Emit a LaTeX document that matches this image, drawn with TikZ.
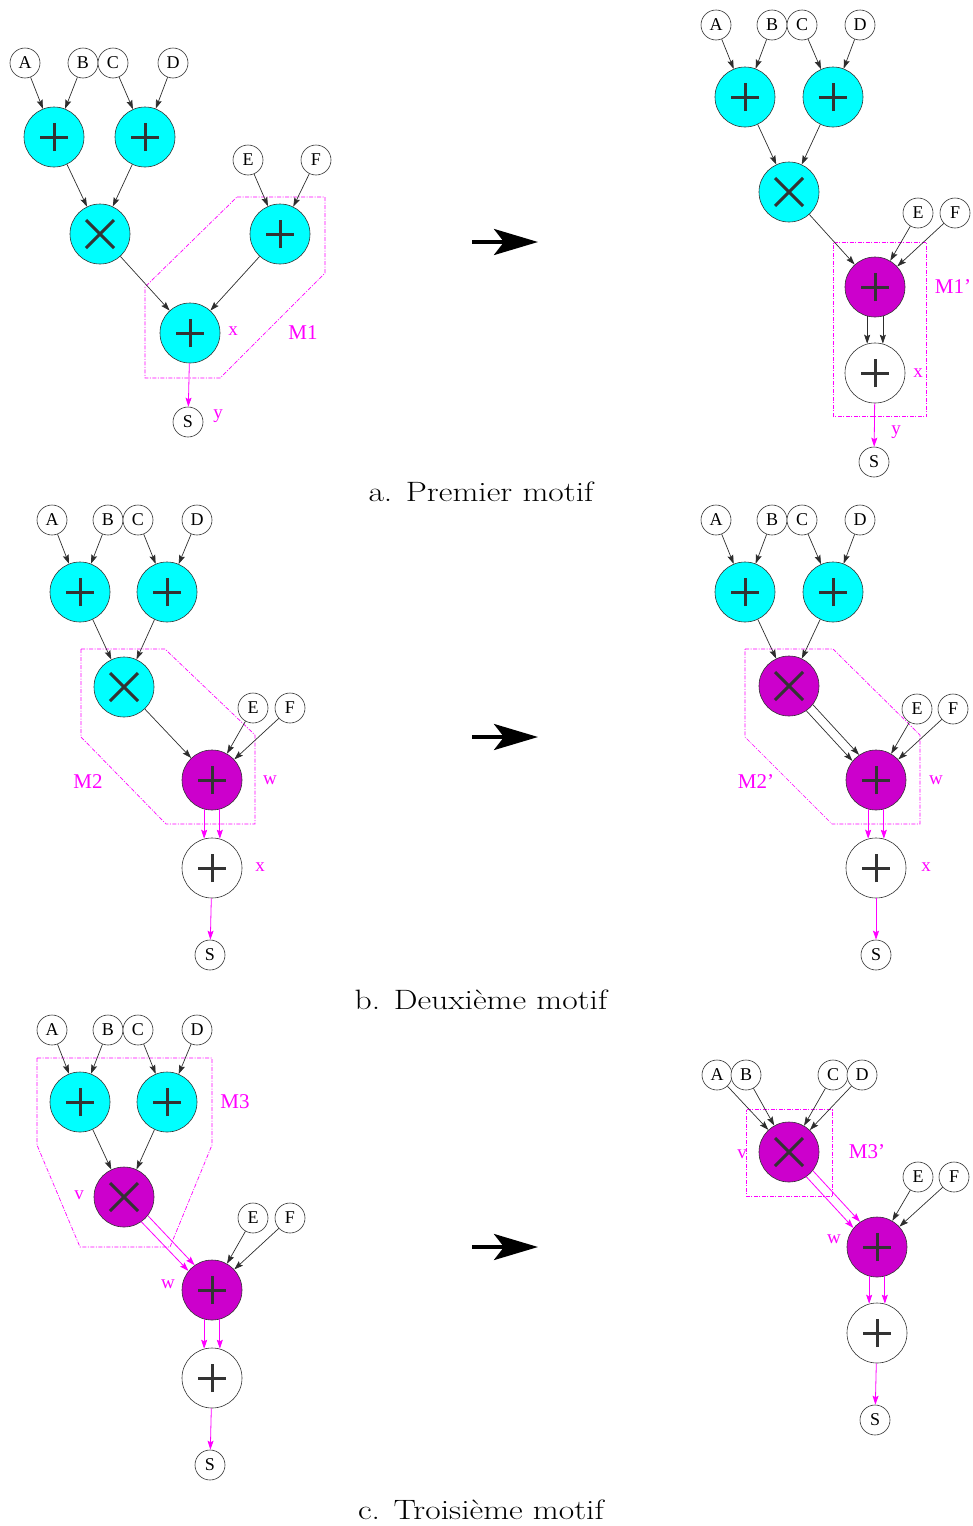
\documentclass[tikz,border=0pt]{standalone}
\usepackage{fontspec}
\newfontfamily\tms{Liberation Serif}
\usetikzlibrary{arrows.meta,calc}
\definecolor{cyanop}{RGB}{0,255,255}
\definecolor{magop}{RGB}{204,0,204}
\definecolor{magl}{RGB}{255,0,255}
\definecolor{edgec}{RGB}{45,45,45}
\tikzset{
 inp/.style={circle,draw=black!80,line width=0.6pt,fill=white,minimum size=30pt,inner sep=0pt,font=\tms\fontsize{18}{18}\selectfont},
 opn/.style={circle,draw=black!80,line width=0.6pt,minimum size=60pt,inner sep=0pt},
 opplus/.style={opn,path picture={\draw[line width=3pt] ($(path picture bounding box.center)+(-14pt,0pt)$) -- ($(path picture bounding box.center)+(14pt,0pt)$) ($(path picture bounding box.center)+(0pt,-14pt)$) -- ($(path picture bounding box.center)+(0pt,14pt)$);}},
 optimes/.style={opn,path picture={\draw[line width=3pt] ($(path picture bounding box.center)+(-14pt,-14pt)$) -- ($(path picture bounding box.center)+(14pt,14pt)$) ($(path picture bounding box.center)+(-14pt,14pt)$) -- ($(path picture bounding box.center)+(14pt,-14pt)$);}},
 cy/.style={fill=cyanop},
 mg/.style={fill=magop},
 wh/.style={fill=white},
 ed/.style={draw=edgec,line width=0.7pt,-{Stealth[length=9pt,width=6pt,inset=1.5pt]}},
 med/.style={draw=magl,line width=0.8pt,-{Stealth[length=9pt,width=6pt,inset=1.5pt]}},
 motif/.style={draw=magl,color=magl,line width=0.7pt,dash pattern=on 4pt off 1.5pt on 1pt off 1.5pt},
 lab/.style={text=magl,font=\tms\fontsize{19}{19}\selectfont,inner sep=0pt},
 mlab/.style={text=magl,font=\tms\fontsize{21}{21}\selectfont,inner sep=0pt},
 bigar/.style={line width=4pt,-{Stealth[length=44pt,width=26pt,inset=10pt]}},
 captxt/.style={anchor=base,inner sep=0pt,font=\fontsize{28}{28}\selectfont},
}
\newcommand{\capbox}[1]{\scalebox{1.2}[1]{#1}}
\begin{document}
\begin{tikzpicture}[x=1pt,y=-1pt]
\useasboundingbox (0,0) rectangle (973,1526);

%%%%%%%%%%%%%%%% motif outlines
\draw[motif] (237,197) -- (325,197) -- (325,273) -- (220,378) -- (145,378) -- (145,287) -- cycle;
\draw[motif] (833.5,242.5) -- (926.5,242.5) -- (926.5,416.5) -- (833.5,416.5) -- cycle;
\draw[motif] (81,649) -- (165,649) -- (255,735) -- (255,824) -- (166,824) -- (81,737) -- cycle;
\draw[motif] (745,649) -- (833,649) -- (920,735) -- (920,824) -- (832,824) -- (745,737) -- cycle;
\draw[motif] (37,1058) -- (212,1058) -- (212,1145) -- (170,1247) -- (80,1247) -- (37,1145) -- cycle;
\draw[motif] (746.5,1109.5) -- (832.5,1109.5) -- (832.5,1196.5) -- (746.5,1196.5) -- cycle;

%%%%%%%%%%%%%%%% Panel a, left
\node[inp] (aLA) at (25,63) {A};
\node[inp] (aLB) at (83,63) {B};
\node[inp] (aLC) at (113,63) {C};
\node[inp] (aLD) at (173,63) {D};
\node[opplus,cy] (aLp1) at (54,137) {};
\node[opplus,cy] (aLp2) at (145,137) {};
\node[optimes,cy] (aLt) at (100,234) {};
\node[inp] (aLE) at (248,160) {E};
\node[inp] (aLF) at (316,160) {F};
\node[opplus,cy] (aLp3) at (280,234) {};
\node[opplus,cy] (aLp4) at (190,333) {};
\node[inp] (aLS) at (188,422) {S};
\node[lab] (aLx) at (233,331) {x};
\node[mlab] (aLM) at (303,333) {M1};
\node[lab] (aLy) at (218,416) {y};
\draw[ed] (aLA) -- (aLp1);
\draw[ed] (aLB) -- (aLp1);
\draw[ed] (aLC) -- (aLp2);
\draw[ed] (aLD) -- (aLp2);
\draw[ed] (aLp1) -- (aLt);
\draw[ed] (aLp2) -- (aLt);
\draw[ed] (aLE) -- (aLp3);
\draw[ed] (aLF) -- (aLp3);
\draw[ed] (aLt) -- (aLp4);
\draw[ed] (aLp3) -- (aLp4);
\draw[med] (aLp4) -- (aLS);

%%%%%%%%%%%%%%%% Panel a, right
\node[inp] (aRA) at (716,25) {A};
\node[inp] (aRB) at (772,25) {B};
\node[inp] (aRC) at (802,25) {C};
\node[inp] (aRD) at (860,25) {D};
\node[opplus,cy] (aRp1) at (745,97) {};
\node[opplus,cy] (aRp2) at (833,97) {};
\node[optimes,cy] (aRt) at (789,192) {};
\node[inp] (aRE) at (918,213) {E};
\node[inp] (aRF) at (955,213) {F};
\node[opplus,mg] (aRpm) at (875,287) {};
\node[opplus,wh] (aRpw) at (875,373) {};
\node[inp] (aRS) at (874,462) {S};
\node[mlab] (aRM) at (953,287) {M1’};
\node[lab] (aRx) at (918,373) {x};
\node[lab] (aRy) at (896,432) {y};
\draw[ed] (aRA) -- (aRp1);
\draw[ed] (aRB) -- (aRp1);
\draw[ed] (aRC) -- (aRp2);
\draw[ed] (aRD) -- (aRp2);
\draw[ed] (aRp1) -- (aRt);
\draw[ed] (aRp2) -- (aRt);
\draw[ed] (aRt) -- (aRpm);
\draw[ed] (aRE) -- (aRpm);
\draw[ed] (aRF) -- (aRpm);
\draw[ed] (aRpm.255) -- (aRpw.105);
\draw[ed] (aRpm.285) -- (aRpw.75);
\draw[med] (aRpw) -- (aRS);

%%%%%%%%%%%%%%%% Panel b, left
\node[inp] (bLA) at (52,520) {A};
\node[inp] (bLB) at (108,520) {B};
\node[inp] (bLC) at (138,520) {C};
\node[inp] (bLD) at (197,520) {D};
\node[opplus,cy] (bLp1) at (80,592) {};
\node[opplus,cy] (bLp2) at (167,592) {};
\node[optimes,cy] (bLt) at (124,687) {};
\node[inp] (bLE) at (253,708) {E};
\node[inp] (bLF) at (290,708) {F};
\node[opplus,mg] (bLpm) at (212,780) {};
\node[opplus,wh] (bLpw) at (212,868) {};
\node[inp] (bLS) at (210,955) {S};
\node[mlab] (bLM) at (88,782) {M2};
\node[lab] (bLw) at (270,780) {w};
\node[lab] (bLx) at (260,867) {x};
\draw[ed] (bLA) -- (bLp1);
\draw[ed] (bLB) -- (bLp1);
\draw[ed] (bLC) -- (bLp2);
\draw[ed] (bLD) -- (bLp2);
\draw[ed] (bLp1) -- (bLt);
\draw[ed] (bLp2) -- (bLt);
\draw[ed] (bLt) -- (bLpm);
\draw[ed] (bLE) -- (bLpm);
\draw[ed] (bLF) -- (bLpm);
\draw[med] (bLpm.255) -- (bLpw.105);
\draw[med] (bLpm.285) -- (bLpw.75);
\draw[med] (bLpw) -- (bLS);

%%%%%%%%%%%%%%%% Panel b, right
\node[inp] (bRA) at (716,520) {A};
\node[inp] (bRB) at (772,520) {B};
\node[inp] (bRC) at (802,520) {C};
\node[inp] (bRD) at (860,520) {D};
\node[opplus,cy] (bRp1) at (745,592) {};
\node[opplus,cy] (bRp2) at (833,592) {};
\node[optimes,mg] (bRt) at (789,686) {};
\node[inp] (bRE) at (917,709) {E};
\node[inp] (bRF) at (953,709) {F};
\node[opplus,mg] (bRpm) at (876,780) {};
\node[opplus,wh] (bRpw) at (876,868) {};
\node[inp] (bRS) at (876,955) {S};
\node[mlab] (bRM) at (756,782) {M2’};
\node[lab] (bRw) at (936,780) {w};
\node[lab] (bRx) at (926,867) {x};
\draw[ed] (bRA) -- (bRp1);
\draw[ed] (bRB) -- (bRp1);
\draw[ed] (bRC) -- (bRp2);
\draw[ed] (bRD) -- (bRp2);
\draw[ed] (bRp1) -- (bRt);
\draw[ed] (bRp2) -- (bRt);
\draw[ed] (bRt.-38.6) -- (bRpm.124.2);
\draw[ed] (bRt.-55.8) -- (bRpm.141.4);
\draw[ed] (bRE) -- (bRpm);
\draw[ed] (bRF) -- (bRpm);
\draw[med] (bRpm.255) -- (bRpw.105);
\draw[med] (bRpm.285) -- (bRpw.75);
\draw[med] (bRpw) -- (bRS);

%%%%%%%%%%%%%%%% Panel c, left
\node[inp] (cLA) at (52,1030) {A};
\node[inp] (cLB) at (108,1030) {B};
\node[inp] (cLC) at (138,1030) {C};
\node[inp] (cLD) at (197,1030) {D};
\node[opplus,cy] (cLp1) at (80,1102) {};
\node[opplus,cy] (cLp2) at (167,1102) {};
\node[optimes,mg] (cLt) at (124,1197) {};
\node[inp] (cLE) at (253,1218) {E};
\node[inp] (cLF) at (290,1218) {F};
\node[opplus,mg] (cLpm) at (212,1290) {};
\node[opplus,wh] (cLpw) at (212,1378) {};
\node[inp] (cLS) at (210,1465) {S};
\node[mlab] (cLM) at (235,1102) {M3};
\node[lab] (cLv) at (79,1195) {v};
\node[lab] (cLw) at (168,1284) {w};
\draw[ed] (cLA) -- (cLp1);
\draw[ed] (cLB) -- (cLp1);
\draw[ed] (cLC) -- (cLp2);
\draw[ed] (cLD) -- (cLp2);
\draw[ed] (cLp1) -- (cLt);
\draw[ed] (cLp2) -- (cLt);
\draw[med] (cLt.-38) -- (cLpm.125);
\draw[med] (cLt.-55.2) -- (cLpm.141.8);
\draw[ed] (cLE) -- (cLpm);
\draw[ed] (cLF) -- (cLpm);
\draw[med] (cLpm.255) -- (cLpw.105);
\draw[med] (cLpm.285) -- (cLpw.75);
\draw[med] (cLpw) -- (cLS);

%%%%%%%%%%%%%%%% Panel c, right
\node[inp] (cRA) at (717,1075) {A};
\node[inp] (cRB) at (746,1075) {B};
\node[inp] (cRC) at (833,1075) {C};
\node[inp] (cRD) at (862,1075) {D};
\node[optimes,mg] (cRt) at (789,1152) {};
\node[inp] (cRE) at (918,1177) {E};
\node[inp] (cRF) at (954,1177) {F};
\node[opplus,mg] (cRpm) at (877,1247) {};
\node[opplus,wh] (cRpw) at (877,1333) {};
\node[inp] (cRS) at (875,1420) {S};
\node[mlab] (cRM) at (867,1152) {M3’};
\node[lab] (cRv) at (742,1154) {v};
\node[lab] (cRw) at (834,1239) {w};
\draw[ed] (cRA) -- (cRt);
\draw[ed] (cRB) -- (cRt);
\draw[ed] (cRC) -- (cRt);
\draw[ed] (cRD) -- (cRt);
\draw[med] (cRt.-38.6) -- (cRpm.124.2);
\draw[med] (cRt.-55.8) -- (cRpm.141.4);
\draw[ed] (cRE) -- (cRpm);
\draw[ed] (cRF) -- (cRpm);
\draw[med] (cRpm.255) -- (cRpw.105);
\draw[med] (cRpm.285) -- (cRpw.75);
\draw[med] (cRpw) -- (cRS);

%%%%%%%%%%%%%%%% big arrows
\coordinate (arA1) at (472,242);
\coordinate (arA2) at (538,242);
\coordinate (arB1) at (472,737);
\coordinate (arB2) at (538,737);
\coordinate (arC1) at (472,1247);
\coordinate (arC2) at (538,1247);
\draw[bigar] (arA1) -- (arA2);
\draw[bigar] (arB1) -- (arB2);
\draw[bigar] (arC1) -- (arC2);

%%%%%%%%%%%%%%%% captions
\node[captxt] (capa) at (481,501) {\capbox{a. Premier motif}};
\node[captxt] (capb) at (481,1009) {\capbox{b. Deuxième motif}};
\node[captxt] (capc) at (481,1519) {\capbox{c. Troisième motif}};
\end{tikzpicture}
\end{document}
